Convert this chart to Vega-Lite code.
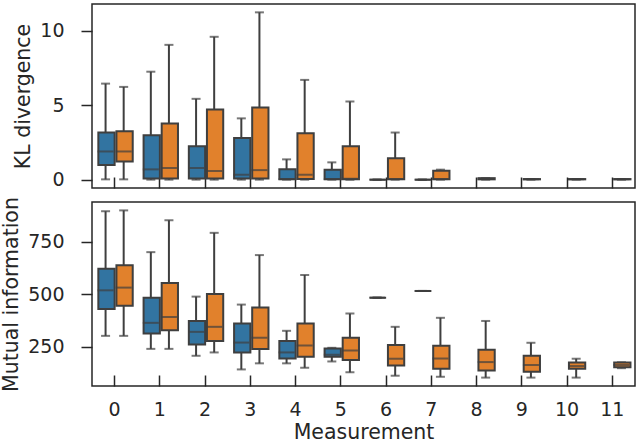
{
  "$schema": "https://vega.github.io/schema/vega-lite/v6.json",
  "padding": {"left": 0, "top": 3, "right": 2, "bottom": 0},
  "background": "white",
  "datasets": {
    "kl": [
      {"m": 0, "g": "A", "min": 0.02, "q1": 0.98, "med": 1.89, "q3": 3.16, "max": 6.44},
      {"m": 0, "g": "B", "min": 0.02, "q1": 1.22, "med": 1.89, "q3": 3.24, "max": 6.22},
      {"m": 1, "g": "A", "min": 0.0, "q1": 0.08, "med": 0.69, "q3": 2.98, "max": 7.24},
      {"m": 1, "g": "B", "min": 0.0, "q1": 0.08, "med": 0.78, "q3": 3.76, "max": 9.04},
      {"m": 2, "g": "A", "min": 0.0, "q1": 0.08, "med": 0.78, "q3": 2.24, "max": 5.42},
      {"m": 2, "g": "B", "min": 0.0, "q1": 0.08, "med": 0.58, "q3": 4.71, "max": 9.58},
      {"m": 3, "g": "A", "min": 0.0, "q1": 0.08, "med": 0.33, "q3": 2.8, "max": 4.11},
      {"m": 3, "g": "B", "min": 0.0, "q1": 0.08, "med": 0.64, "q3": 4.84, "max": 11.22},
      {"m": 4, "g": "A", "min": 0.0, "q1": 0.02, "med": 0.04, "q3": 0.69, "max": 1.36},
      {"m": 4, "g": "B", "min": 0.0, "q1": 0.04, "med": 0.33, "q3": 3.11, "max": 6.69},
      {"m": 5, "g": "A", "min": 0.0, "q1": 0.02, "med": 0.04, "q3": 0.67, "max": 1.16},
      {"m": 5, "g": "B", "min": 0.0, "q1": 0.02, "med": 0.06, "q3": 2.24, "max": 5.24},
      {"m": 6, "g": "A", "min": 0.0, "q1": 0.0, "med": 0.0, "q3": 0.0, "max": 0.0},
      {"m": 6, "g": "B", "min": 0.0, "q1": 0.02, "med": 0.04, "q3": 1.44, "max": 3.16},
      {"m": 7, "g": "A", "min": 0.0, "q1": 0.0, "med": 0.0, "q3": 0.0, "max": 0.0},
      {"m": 7, "g": "B", "min": 0.0, "q1": 0.02, "med": 0.04, "q3": 0.6, "max": 0.67},
      {"m": 8, "g": "B", "min": 0.0, "q1": 0.02, "med": 0.05, "q3": 0.1, "max": 0.1},
      {"m": 9, "g": "B", "min": 0.0, "q1": 0.02, "med": 0.03, "q3": 0.04, "max": 0.04},
      {"m": 10, "g": "B", "min": 0.0, "q1": 0.02, "med": 0.03, "q3": 0.04, "max": 0.04},
      {"m": 11, "g": "B", "min": 0.0, "q1": 0.02, "med": 0.03, "q3": 0.04, "max": 0.04}
    ],
    "mi": [
      {"m": 0, "g": "A", "min": 302, "q1": 430, "med": 519, "q3": 622, "max": 896},
      {"m": 0, "g": "B", "min": 302, "q1": 445, "med": 532, "q3": 639, "max": 900},
      {"m": 1, "g": "A", "min": 240, "q1": 313, "med": 364, "q3": 484, "max": 701},
      {"m": 1, "g": "B", "min": 240, "q1": 329, "med": 392, "q3": 554, "max": 853},
      {"m": 2, "g": "A", "min": 207, "q1": 261, "med": 321, "q3": 373, "max": 489},
      {"m": 2, "g": "B", "min": 223, "q1": 278, "med": 345, "q3": 502, "max": 793},
      {"m": 3, "g": "A", "min": 142, "q1": 223, "med": 270, "q3": 361, "max": 451},
      {"m": 3, "g": "B", "min": 171, "q1": 239, "med": 293, "q3": 437, "max": 687},
      {"m": 4, "g": "A", "min": 171, "q1": 194, "med": 223, "q3": 278, "max": 326},
      {"m": 4, "g": "B", "min": 150, "q1": 202, "med": 256, "q3": 361, "max": 592},
      {"m": 5, "g": "A", "min": 180, "q1": 202, "med": 212, "q3": 242, "max": 245},
      {"m": 5, "g": "B", "min": 128, "q1": 187, "med": 232, "q3": 293, "max": 408},
      {"m": 6, "g": "A", "min": 484, "q1": 484, "med": 484, "q3": 484, "max": 484},
      {"m": 6, "g": "B", "min": 112, "q1": 161, "med": 193, "q3": 259, "max": 345},
      {"m": 7, "g": "A", "min": 516, "q1": 516, "med": 516, "q3": 516, "max": 516},
      {"m": 7, "g": "B", "min": 107, "q1": 145, "med": 194, "q3": 255, "max": 388},
      {"m": 8, "g": "B", "min": 103, "q1": 137, "med": 177, "q3": 236, "max": 373},
      {"m": 9, "g": "B", "min": 103, "q1": 131, "med": 163, "q3": 207, "max": 269},
      {"m": 10, "g": "B", "min": 103, "q1": 145, "med": 158, "q3": 175, "max": 193},
      {"m": 11, "g": "B", "min": 148, "q1": 152, "med": 163, "q3": 175, "max": 176}
    ]
  },
  "spacing": 14,
  "bounds": "flush",
  "vconcat": [
    {
      "width": 543,
      "height": 184,
      "data": {"name": "kl"},
      "encoding": {
        "x": {"field": "m", "type": "ordinal", "scale": {"domain": [0,1,2,3,4,5,6,7,8,9,10,11], "paddingInner": 0.2, "paddingOuter": 0.1}, "axis": {"labels": false, "title": null, "tickSize": -11}},
        "xOffset": {"field": "g", "type": "nominal", "scale": {"domain": ["A", "B"]}}
      },
      "layer": [
        {"mark": {"type": "rule", "color": "#3f3f3f", "strokeWidth": 2},
         "encoding": {"y": {"field": "min", "type": "quantitative", "scale": {"domain": [-0.56, 11.78], "nice": false, "zero": false}, "axis": {"title": "KL divergence", "values": [0, 5, 10]}}, "y2": {"field": "max"}}},
        {"mark": {"type": "tick", "orient": "horizontal", "color": "#3f3f3f", "size": 9, "thickness": 2},
         "encoding": {"y": {"field": "min", "type": "quantitative"}}},
        {"mark": {"type": "tick", "orient": "horizontal", "color": "#3f3f3f", "size": 9, "thickness": 2},
         "encoding": {"y": {"field": "max", "type": "quantitative"}}},
        {"mark": {"type": "bar", "stroke": "#3f3f3f", "strokeWidth": 2, "width": {"band": 0.9}},
         "encoding": {"y": {"field": "q1", "type": "quantitative"}, "y2": {"field": "q3"},
           "fill": {"field": "g", "type": "nominal", "scale": {"domain": ["A", "B"], "range": ["#3274a1", "#e1812c"]}, "legend": null}}},
        {"mark": {"type": "tick", "orient": "horizontal", "color": "#3f3f3f", "size": 16, "thickness": 2},
         "encoding": {"y": {"field": "med", "type": "quantitative"}}}
      ]
    },
    {
      "width": 543,
      "height": 184,
      "data": {"name": "mi"},
      "encoding": {
        "x": {"field": "m", "type": "ordinal", "scale": {"domain": [0,1,2,3,4,5,6,7,8,9,10,11], "paddingInner": 0.2, "paddingOuter": 0.1}, "axis": {"title": "Measurement", "labelAngle": 0, "tickSize": -11, "labelPadding": 25, "titlePadding": 3}},
        "xOffset": {"field": "g", "type": "nominal", "scale": {"domain": ["A", "B"]}}
      },
      "layer": [
        {"mark": {"type": "rule", "color": "#3f3f3f", "strokeWidth": 2},
         "encoding": {"y": {"field": "min", "type": "quantitative", "scale": {"domain": [63, 940], "nice": false, "zero": false}, "axis": {"title": "Mutual information", "values": [250, 500, 750]}}, "y2": {"field": "max"}}},
        {"mark": {"type": "tick", "orient": "horizontal", "color": "#3f3f3f", "size": 9, "thickness": 2},
         "encoding": {"y": {"field": "min", "type": "quantitative"}}},
        {"mark": {"type": "tick", "orient": "horizontal", "color": "#3f3f3f", "size": 9, "thickness": 2},
         "encoding": {"y": {"field": "max", "type": "quantitative"}}},
        {"mark": {"type": "bar", "stroke": "#3f3f3f", "strokeWidth": 2, "width": {"band": 0.9}},
         "encoding": {"y": {"field": "q1", "type": "quantitative"}, "y2": {"field": "q3"},
           "fill": {"field": "g", "type": "nominal", "scale": {"domain": ["A", "B"], "range": ["#3274a1", "#e1812c"]}, "legend": null}}},
        {"mark": {"type": "tick", "orient": "horizontal", "color": "#3f3f3f", "size": 16, "thickness": 2},
         "encoding": {"y": {"field": "med", "type": "quantitative"}}}
      ]
    }
  ],
  "config": {
    "font": "DejaVu Sans",
    "view": {"stroke": "#262626", "strokeWidth": 1.5},
    "axis": {"grid": false, "domain": false, "tickColor": "#262626", "tickWidth": 1.5, "labelColor": "#262626", "titleColor": "#262626", "labelFontSize": 19, "titleFontSize": 20.5, "titleFontWeight": "normal", "labelFont": "DejaVu Sans", "titleFont": "DejaVu Sans"},
    "axisY": {"tickSize": 11, "labelPadding": 17, "titlePadding": 6},
    "bar": {"opacity": 1}
  }
}
